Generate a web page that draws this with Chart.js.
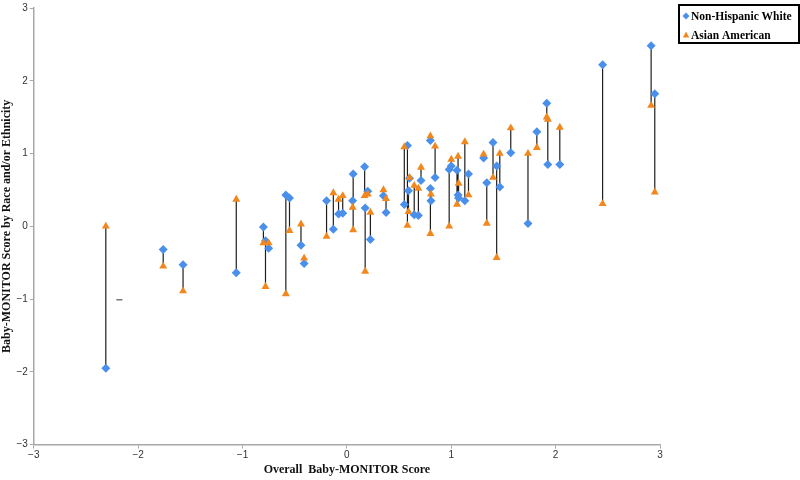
<!DOCTYPE html>
<html>
<head>
<meta charset="utf-8">
<script src="https://cdn.jsdelivr.net/npm/chart.js@4/dist/chart.umd.min.js"></script>
<style>
  html, body { margin: 0; padding: 0; background: #fff; }
  #wrap { width: 800px; height: 480px; }
</style>
</head>
<body>
<div id="wrap"><canvas id="myChart"></canvas></div>
<script>
// overall Baby-MONITOR score (x) per site, with the two group scores (y)
const overallScore = [-2.31, -1.76, -1.57, -1.06, -0.80, -0.78, -0.75, -0.585, -0.55, -0.44,
  -0.41, -0.195, -0.13, -0.08, -0.04, 0.06, 0.055, 0.17, 0.175, 0.20,
  0.225, 0.35, 0.375, 0.55, 0.58, 0.59, 0.60, 0.645, 0.685, 0.71,
  0.80, 0.80, 0.805, 0.845, 0.98, 1.00, 1.055, 1.065, 1.07, 1.13,
  1.165, 1.31, 1.34, 1.40, 1.435, 1.465, 1.57, 1.735, 1.82, 1.915,
  1.925, 2.04, 2.45, 2.915, 2.95];
const whiteScore = [-1.95, -0.32, -0.53, -0.64, -0.01, -0.20, -0.30, 0.43, 0.39, -0.26,
  -0.51, 0.35, -0.04, 0.17, 0.18, 0.72, 0.35, 0.82, 0.25, 0.48,
  -0.18, 0.42, 0.19, 0.30, 1.11, 0.49, 0.66, 0.16, 0.15, 0.63,
  1.18, 0.52, 0.35, 0.67, 0.78, 0.83, 0.77, 0.43, 0.39, 0.35,
  0.72, 0.94, 0.60, 1.15, 0.83, 0.54, 1.01, 0.04, 1.30, 1.69,
  0.85, 0.85, 2.22, 2.48, 1.82];
const asianScore = [0.00, -0.55, -0.89, 0.37, -0.23, -0.83, -0.23, -0.93, -0.06, 0.03,
  -0.44, -0.14, 0.46, 0.37, 0.42, -0.05, 0.26, 0.42, -0.62, 0.44,
  0.19, 0.50, 0.38, 1.09, 0.01, 0.20, 0.67, 0.56, 0.52, 0.81,
  1.24, -0.10, 0.44, 1.10, 0.00, 0.92, 0.30, 0.96, 0.59, 1.16,
  0.43, 0.99, 0.04, 0.67, -0.43, 1.00, 1.35, 1.00, 1.08, 1.50,
  1.47, 1.36, 0.31, 1.66, 0.47];
// lone dash mark left of -2
const strayX = [-2.18];
const strayY = [-1.01];

const axisTicks = [-3, -2, -1, 0, 1, 2, 3];
const seriesNames = ['Non-Hispanic White', 'Asian American'];

const blue = 'rgb(74, 143, 233)';
const orange = 'rgb(242, 135, 30)';

let whitePts = overallScore.map((x, i) => ({x: x, y: whiteScore[i]}));
let asianPts = overallScore.map((x, i) => ({x: x, y: asianScore[i]}));

// connector segments, broken with null
let connectors = [];
overallScore.forEach((x, i) => {
    connectors.push({x: x, y: whiteScore[i]});
    connectors.push({x: x, y: asianScore[i]});
    connectors.push({x: x, y: null});
});

const minusFmt = (v) => v < 0 ? '\u2212' + Math.abs(v) : String(v);

const boxLegend = {
    id: 'boxLegend',
    afterDraw(chart) {
        const {ctx} = chart;
        const items = chart.data.datasets.filter(d => d.inLegend);
        const left = 679, top = 5, right = 799, rowH = 19;
        ctx.save();
        ctx.lineWidth = 2;
        ctx.strokeStyle = '#000';
        ctx.strokeRect(left, top, right - left, 38);
        ctx.font = 'bold 11.5px "Liberation Serif", "Times New Roman", serif';
        ctx.textBaseline = 'middle';
        items.forEach((d, i) => {
            const cy = top + 11 + i * rowH;
            const cx = left + 7;
            ctx.fillStyle = d.backgroundColor;
            ctx.beginPath();
            if (d.pointStyle === 'rectRot') {
                ctx.moveTo(cx, cy - 3.5); ctx.lineTo(cx + 3.5, cy);
                ctx.lineTo(cx, cy + 3.5); ctx.lineTo(cx - 3.5, cy);
            } else {
                ctx.moveTo(cx, cy - 3.5); ctx.lineTo(cx + 3.2, cy + 2.5);
                ctx.lineTo(cx - 3.2, cy + 2.5);
            }
            ctx.closePath();
            ctx.fill();
            ctx.fillStyle = '#000';
            ctx.fillText(d.label, cx + 5, cy + 1);
        });
        ctx.restore();
    }
};

const tickFont = {family: '"Liberation Sans Narrow", "Liberation Sans", Arial, sans-serif', size: 10};
const titleFont = {family: '"Liberation Serif", "Times New Roman", serif', size: 12, weight: 'bold'};

const config = {
    type: 'scatter',
    data: {
        datasets: [
            {
                label: seriesNames[0],
                inLegend: true,
                data: whitePts,
                pointStyle: 'rectRot',
                pointRadius: 4.5,
                backgroundColor: blue,
                borderColor: blue,
                borderWidth: 0,
                order: 2,
            },
            {
                label: seriesNames[1],
                inLegend: true,
                data: asianPts,
                pointStyle: 'triangle',
                pointRadius: 4.6,
                backgroundColor: orange,
                borderColor: orange,
                borderWidth: 0,
                order: 1,
            },
            {
                type: 'line',
                label: 'pairs',
                data: connectors,
                showLine: true,
                spanGaps: false,
                pointRadius: 0,
                borderColor: '#1e1e1e',
                borderWidth: 1.2,
                order: 3,
            },
            {
                label: 'dash',
                data: strayX.map((x, i) => ({x: x, y: strayY[i]})),
                pointStyle: 'line',
                pointRadius: 3,
                borderColor: '#777',
                borderWidth: 1.5,
                order: 4,
            },
        ],
    },
    options: {
        responsive: true,
        maintainAspectRatio: false,
        animation: false,
        layout: {
            padding: {top: -5, right: 140, bottom: 3, left: 0}
        },
        plugins: {
            legend: {display: false},
            tooltip: {enabled: false},
        },
        scales: {
            x: {
                type: 'linear',
                min: -3,
                max: 3,
                afterBuildTicks: (axis) => { axis.ticks = axisTicks.map(v => ({value: v})); },
                ticks: {
                    color: '#333',
                    font: tickFont,
                    padding: 1,
                    callback: minusFmt,
                },
                grid: {
                    display: true,
                    drawOnChartArea: false,
                    drawTicks: true,
                    tickLength: 4,
                    color: '#a8a8a8',
                },
                border: {color: '#a8a8a8', width: 1.5},
                title: {
                    display: true,
                    text: 'Overall  Baby-MONITOR Score',
                    color: '#111',
                    font: titleFont,
                    padding: {top: 0, bottom: 0},
                },
            },
            y: {
                type: 'linear',
                min: -3,
                max: 3,
                afterBuildTicks: (axis) => { axis.ticks = axisTicks.map(v => ({value: v})); },
                ticks: {
                    color: '#333',
                    font: tickFont,
                    padding: 2,
                    callback: minusFmt,
                },
                grid: {
                    display: true,
                    drawOnChartArea: false,
                    drawTicks: true,
                    tickLength: 4,
                    color: '#a8a8a8',
                },
                border: {color: '#a8a8a8', width: 1.5},
                title: {
                    display: true,
                    text: 'Baby-MONITOR Score by Race and/or Ethnicity',
                    color: '#111',
                    font: titleFont,
                    padding: {top: 0, bottom: 0},
                },
            },
        },
    },
    plugins: [boxLegend],
};

const chart = new Chart(document.getElementById('myChart'), config);
</script>
</body>
</html>
